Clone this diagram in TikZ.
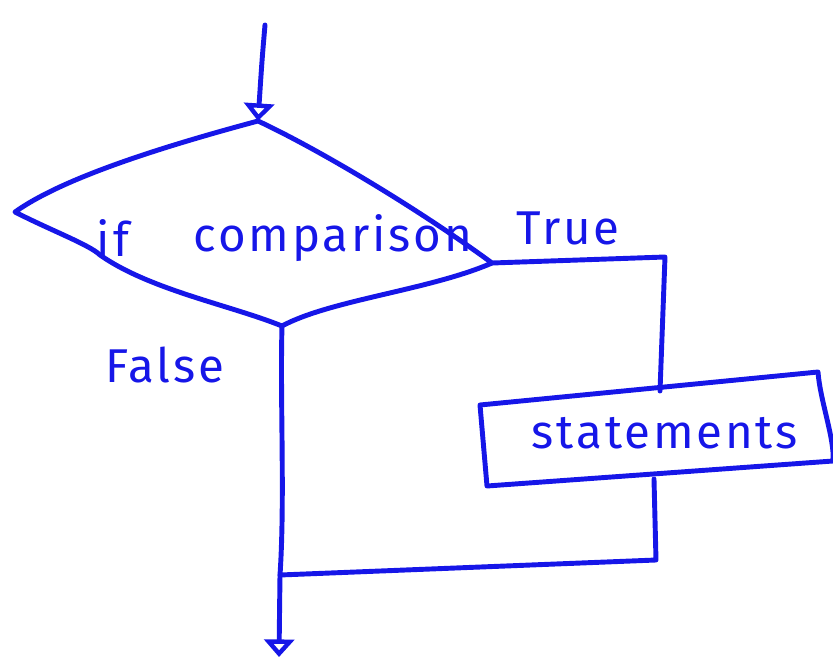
\documentclass[tikz,border=0pt]{standalone}
\usepackage{fontspec}
\newfontfamily\hand[LetterSpace=6]{Fira Sans}
\usetikzlibrary{arrows.meta}
\definecolor{ink}{RGB}{22,22,232}
\tikzset{
  pen/.style={draw=ink, line width=2.8pt, line cap=round, line join=round},
  lbl/.style={text=ink, font=\hand\fontsize{27}{30}\selectfont, inner sep=0pt},
  tip/.style={-{Triangle[open, length=10pt, width=17pt, line width=2.6pt]}}
}
\begin{document}
\begin{tikzpicture}[x=0.02cm, y=-0.02cm]
\useasboundingbox (0,0) rectangle (833,667);
% diamond corners
\coordinate (start) at (265,25);
\coordinate (dT) at (258,121);
\coordinate (dL) at (15,212);
\coordinate (dB) at (282,326);
\coordinate (dR) at (492,263);
\coordinate (tc) at (665,257);
% statements box corners
\coordinate (bTL) at (480,405);
\coordinate (bTR) at (818,372);
\coordinate (bBR) at (833,461);
\coordinate (bBL) at (487,486);
\coordinate (bTop) at (660,391);
\coordinate (bBot) at (654,479);
\coordinate (bc) at (656,560);
\coordinate (join) at (280,575);
\coordinate (endp) at (279,657);

% incoming arrow
\draw[pen, tip] (start) .. controls (262,60) .. (dT);
% diamond
\draw[pen] (dT) .. controls (150,150) and (60,180) .. (dL)
  .. controls (50,230) and (90,245) .. (100,255)
  .. controls (150,290) and (230,305) .. (dB)
  .. controls (330,300) and (430,290) .. (dR)
  .. controls (420,210) and (320,150) .. (dT);
% labels in diamond
\node[lbl] (if) at (113,238) {if};
\node[lbl] (cmp) at (333,238) {comparison};
\node[lbl] (true) at (568,228) {True};
\node[lbl] (false) at (165,365) {False};
% true branch
\draw[pen] (dR) -- (tc) -- (bTop);
% statements box
\draw[pen] (bTL) -- (bTR) .. controls (820,400) and (835,440) .. (bBR) -- (bBL) -- cycle;
\node[lbl] (stmt) at (665,433) {statements};
% back to main line
\draw[pen] (bBot) -- (bc) -- (join);
% false branch / main line
\draw[pen, tip] (dB) .. controls (280,400) and (285,500) .. (join) -- (endp);
\end{tikzpicture}
\end{document}
